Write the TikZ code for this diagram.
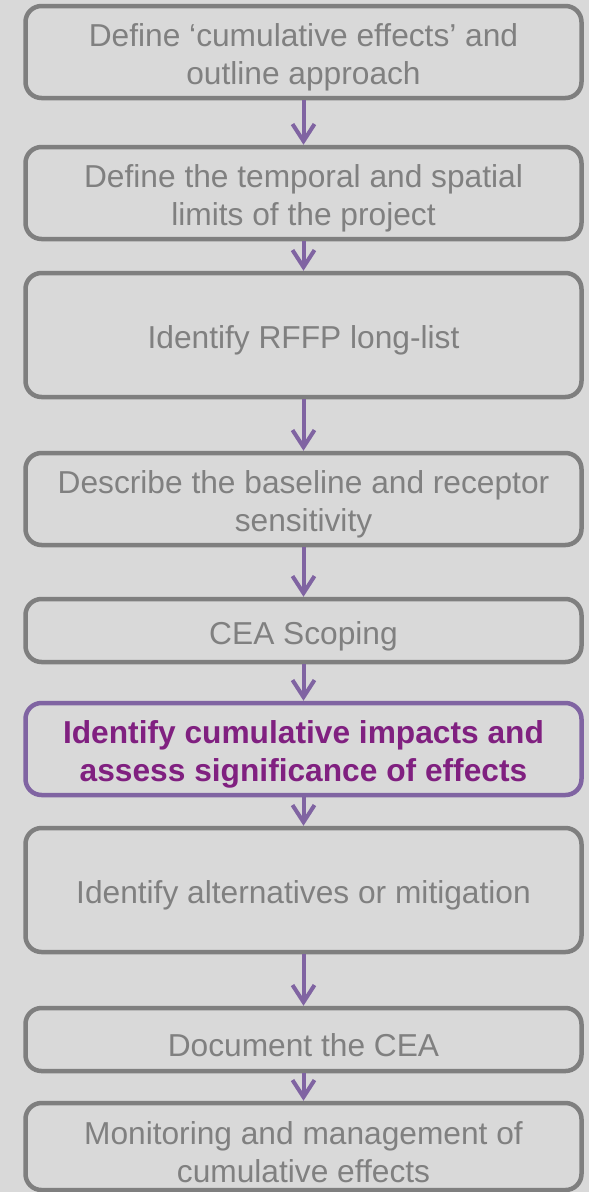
\documentclass[tikz,border=0pt]{standalone}
\usepackage{fontspec}
\setmainfont{Liberation Sans}
\usetikzlibrary{arrows.meta}
\definecolor{bg}{RGB}{217,217,217}
\definecolor{bordergray}{RGB}{127,127,127}
\definecolor{textgray}{RGB}{128,128,128}
\definecolor{arrowpurple}{RGB}{128,100,162}
\definecolor{textpurple}{RGB}{128,32,128}
\newcommand\mytopstrut{\rule{0pt}{34pt}}
\begin{document}
\begin{tikzpicture}[x=1pt,y=-1pt,
  stepbox/.style={draw=bordergray, line width=4.5pt, rounded corners=16pt,
    minimum width=556pt, inner sep=0pt, align=center, text=textgray,
    font=\fontsize{31.7}{38.5}\selectfont},
  hlbox/.style={stepbox, draw=arrowpurple, text=textpurple,
    font=\fontsize{31.7}{38.5}\selectfont\bfseries},
  flow/.style={draw=arrowpurple, line width=4pt,
    -{Straight Barb[length=17pt,width=22pt]}}]
\fill[bg] (0,0) rectangle (589,1192);
\useasboundingbox (0,0) rectangle (589,1192);
\node[stepbox, minimum height=92pt] (b1) at (303.5,52) {\mytopstrut Define ‘cumulative effects’ and\\outline approach};
\node[stepbox, minimum height=92pt] (b2) at (303.5,193) {\mytopstrut Define the temporal and spatial\\limits of the project};
\node[stepbox, minimum height=124pt] (b3) at (303.5,335) {\mytopstrut Identify RFFP long-list};
\node[stepbox, minimum height=92pt] (b4) at (303.5,499) {\mytopstrut Describe the baseline and receptor\\sensitivity};
\node[stepbox, minimum height=63pt] (b5) at (303.5,630.5) {\mytopstrut CEA Scoping};
\node[hlbox, minimum height=92pt] (b6) at (303.5,749) {\mytopstrut Identify cumulative impacts and\\assess significance of effects};
\node[stepbox, minimum height=124pt] (b7) at (303.5,890) {\mytopstrut Identify alternatives or mitigation};
\node[stepbox, minimum height=63pt] (b8) at (303.5,1039.5) {\mytopstrut Document the CEA};
\node[stepbox, minimum height=87pt] (b9) at (303.5,1146.5) {\mytopstrut Monitoring and management of\\cumulative effects};
\foreach \a/\b in {b1/b2,b2/b3,b3/b4,b4/b5,b5/b6,b6/b7,b7/b8,b8/b9}
  \draw[flow] (\a.south) -- (\b.north);
\end{tikzpicture}
\end{document}
